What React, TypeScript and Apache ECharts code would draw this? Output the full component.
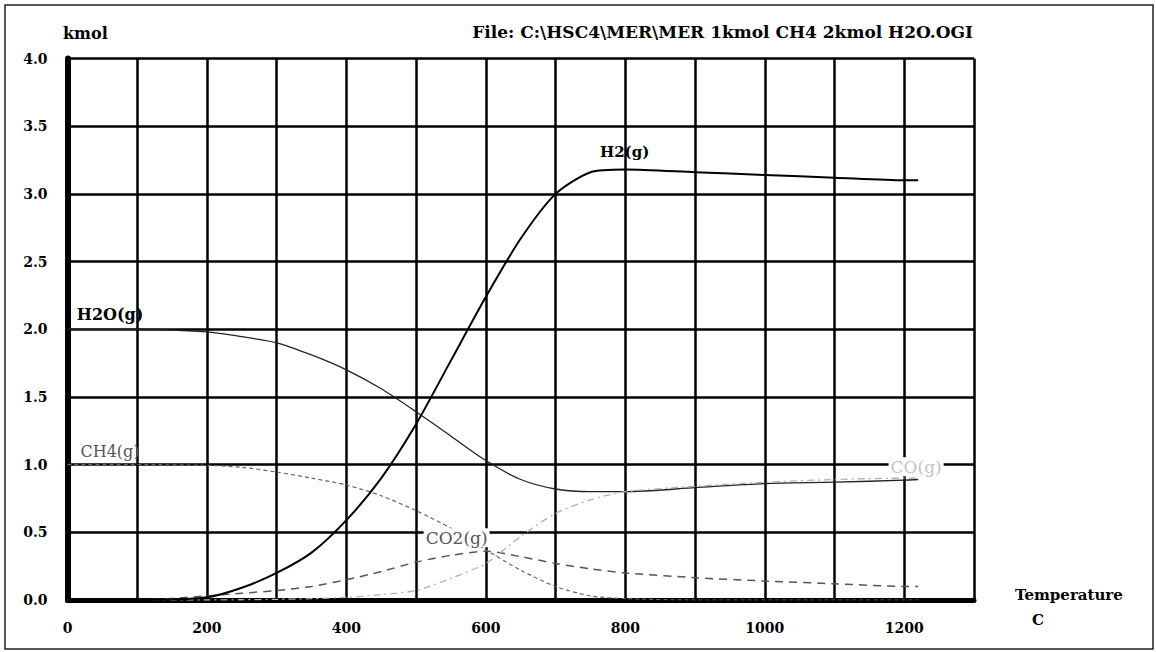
import React, { useEffect, useRef } from "react";
import * as echarts from "echarts";

// Temperature (C) sample points
const temperatures = [0, 100, 200, 250, 300, 350, 400, 450, 500, 550, 600, 650, 700, 750, 800, 900, 1000, 1100, 1200, 1220];

// kmol values
const h2 = [0, 0, 0.02, 0.09, 0.2, 0.35, 0.59, 0.9, 1.3, 1.77, 2.24, 2.67, 3.0, 3.16, 3.18, 3.16, 3.14, 3.12, 3.1, 3.1];
const h2o = [2.0, 2.0, 1.98, 1.945, 1.9, 1.81, 1.7, 1.56, 1.39, 1.21, 1.03, 0.89, 0.82, 0.8, 0.8, 0.83, 0.86, 0.87, 0.885, 0.89];
const ch4 = [1.0, 1.0, 0.995, 0.98, 0.945, 0.9, 0.85, 0.77, 0.66, 0.53, 0.37, 0.22, 0.1, 0.03, 0.01, 0, 0, 0, 0, 0];
const co = [0, 0, 0, 0.002, 0.005, 0.01, 0.02, 0.04, 0.07, 0.16, 0.27, 0.47, 0.64, 0.74, 0.8, 0.84, 0.87, 0.89, 0.9, 0.9];
const co2 = [0, 0, 0.03, 0.05, 0.07, 0.1, 0.15, 0.21, 0.28, 0.33, 0.36, 0.32, 0.27, 0.23, 0.2, 0.165, 0.14, 0.12, 0.1, 0.1];

// Curve label names and their anchor in data space
const seriesNames = ["H2(g)", "H2O(g)", "CH4(g)", "CO(g)", "CO2(g)"];
const labelAnchors: [number, number][] = [
  [799, 3.31],
  [61, 2.11],
  [61, 1.1],
  [1217, 0.985],
  [558, 0.46],
];

// Axis settings
const xMin = 0;
const xMax = 1300;
const xStep = 100;
const yMin = 0;
const yMax = 4;
const yStep = 0.5;

const yUnit = "kmol";
const fileTitle = "File: C:\\HSC4\\MER\\MER 1kmol CH4 2kmol H2O.OGI";
const xTitle1 = "Temperature";
const xTitle2 = "C";

const SERIF = "'DejaVu Serif', 'Liberation Serif', serif";

function pairs(ys: number[]) {
  return temperatures.map((t, i) => [t, ys[i]]);
}

export default function App() {
  const ref = useRef<HTMLDivElement>(null);

  useEffect(() => {
    if (!ref.current) return;
    const chart = echarts.init(ref.current, null, { renderer: "svg" });

    const styles = [
      { color: "#000", width: 2, type: "solid" as any, z: 6, label: { color: "#000", fontWeight: "bold", fontSize: 15, bg: "transparent" } },
      { color: "#222", width: 1.3, type: "solid" as any, z: 4, label: { color: "#000", fontWeight: "bold", fontSize: 16, bg: "transparent" } },
      { color: "#666", width: 1.2, type: [4, 3] as any, z: 3, label: { color: "#555", fontWeight: "normal", fontSize: 16, bg: "transparent" } },
      { color: "#b0b0b0", width: 1.3, type: [7, 4, 2, 4] as any, z: 5, label: { color: "#c4c4c4", fontWeight: "normal", fontSize: 17, bg: "#fff" } },
      { color: "#555", width: 1.5, type: [8, 6] as any, z: 3, label: { color: "#555", fontWeight: "normal", fontSize: 17, bg: "#fff" } },
    ];
    const datasets = [h2, h2o, ch4, co, co2];

    const series = datasets.map((d, i) => ({
      name: seriesNames[i],
      type: "line",
      data: pairs(d),
      showSymbol: false,
      symbol: "none",
      smooth: 0.25,
      lineStyle: { color: styles[i].color, width: styles[i].width, type: styles[i].type },
      z: styles[i].z,
      markPoint: {
        symbol: "circle",
        symbolSize: 1,
        silent: true,
        itemStyle: { color: "transparent" },
        label: {
          show: true,
          position: "inside",
          formatter: seriesNames[i],
          fontFamily: SERIF,
          fontSize: styles[i].label.fontSize,
          fontWeight: styles[i].label.fontWeight,
          color: styles[i].label.color,
          backgroundColor: styles[i].label.bg,
          padding: [1, 2],
        },
        data: [{ coord: labelAnchors[i] }],
      },
    }));

    chart.setOption({
      animation: false,
      backgroundColor: "#fff",
      grid: { left: 67.5, right: 182, top: 58.5, bottom: 52, containLabel: false },
      xAxis: {
        type: "value",
        min: xMin,
        max: xMax,
        interval: xStep,
        axisLine: { show: true, onZero: false, lineStyle: { color: "#000", width: 5 } },
        axisTick: { show: false },
        axisLabel: {
          margin: 21,
          fontFamily: SERIF,
          fontWeight: "bold",
          fontSize: 14,
          color: "#000",
          formatter: (v: number) => (v % 200 === 0 ? String(v) : ""),
        },
        splitLine: { show: true, lineStyle: { color: "#000", width: 2.5 } },
      },
      yAxis: {
        type: "value",
        min: yMin,
        max: yMax,
        interval: yStep,
        axisLine: { show: true, onZero: false, lineStyle: { color: "#000", width: 6 } },
        axisTick: { show: false },
        axisLabel: {
          margin: 20,
          fontFamily: SERIF,
          fontWeight: "bold",
          fontSize: 14,
          color: "#000",
          formatter: (v: number) => v.toFixed(1),
        },
        splitLine: { show: true, lineStyle: { color: "#000", width: 2.5 } },
      },
      series,
      graphic: [
        {
          type: "rect",
          shape: { x: 5, y: 5, width: 1148, height: 644 },
          style: { fill: "none", stroke: "#222", lineWidth: 1.5 },
          silent: true,
          z: 0,
        },
        {
          type: "text",
          style: { text: yUnit, x: 63, y: 33, textVerticalAlign: "middle", font: `bold 16px ${SERIF}`, fill: "#000" },
        },
        {
          type: "text",
          style: { text: fileTitle, x: 973, y: 32, textAlign: "right", textVerticalAlign: "middle", font: `bold 17px ${SERIF}`, fill: "#000" },
        },
        {
          type: "text",
          style: { text: xTitle1, x: 1015, y: 595, textVerticalAlign: "middle", font: `bold 15px ${SERIF}`, fill: "#000" },
        },
        {
          type: "text",
          style: { text: xTitle2, x: 1032, y: 620, textVerticalAlign: "middle", font: `bold 15px ${SERIF}`, fill: "#000" },
        },
      ],
    });

    return () => chart.dispose();
  }, []);

  return (
    <div
      ref={ref}
      style={{ position: "absolute", left: 0, top: 0, width: 1156, height: 652, background: "#fff" }}
    />
  );
}
